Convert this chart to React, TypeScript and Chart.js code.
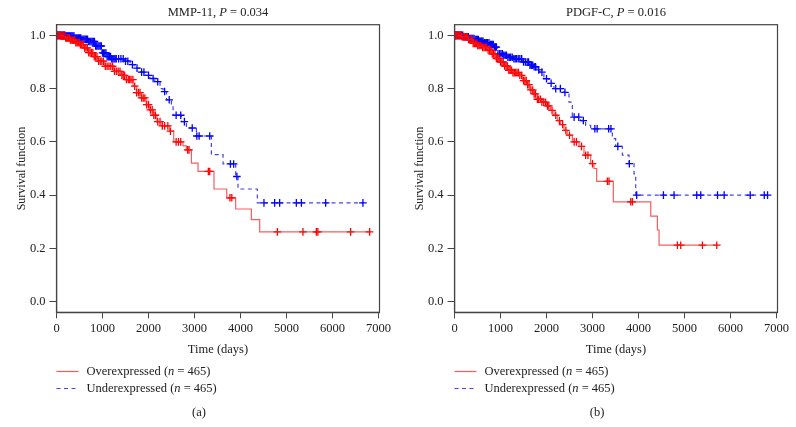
import React, { useEffect, useRef } from 'react';
import { Chart, registerables } from 'chart.js';

Chart.register(...registerables);

// ---------- axis ticks ----------
const xTicks = [0, 1000, 2000, 3000, 4000, 5000, 6000, 7000];
const yTicks = [0, 0.2, 0.4, 0.6, 0.8, 1.0];

// ---------- Panel (a) MMP-11 ----------
const mmpOverTimes = [0, 100, 200, 300, 400, 500, 600, 700, 800, 900, 1050, 1230, 1410, 1520, 1665, 1740, 1846, 1950, 2030, 2110, 2180, 2300, 2460, 2548, 2750, 2824, 2932, 3076, 3423, 3700, 3894, 4235, 4416];
const mmpOverSurv = [1.0, 0.997, 0.99, 0.983, 0.972, 0.965, 0.953, 0.935, 0.92, 0.903, 0.884, 0.865, 0.85, 0.834, 0.809, 0.785, 0.765, 0.74, 0.72, 0.7, 0.676, 0.66, 0.64, 0.6, 0.585, 0.57, 0.52, 0.489, 0.423, 0.39, 0.348, 0.308, 0.262];
const mmpOverCensor = [15, 40, 60, 80, 100, 120, 140, 160, 185, 200, 220, 240, 260, 280, 300, 320, 345, 370, 395, 420, 445, 470, 495, 520, 550, 580, 610, 640, 670, 700, 730, 760, 790, 820, 850, 880, 915, 950, 985, 1020, 1060, 1100, 1140, 1180, 1220, 1260, 1300, 1340, 1380, 1420, 1450, 1480, 1520, 1560, 1590, 1620, 1660, 1700, 1740, 1780, 1815, 1850, 1885, 1920, 1960, 2000, 2040, 2080, 2115, 2150, 2200, 2250, 2300, 2350, 2420, 2476, 2600, 2650, 2700, 2850, 2880, 3300, 3330, 3770, 3810, 4800, 5356, 5647, 5681, 6392, 6805];

const mmpUnderTimes = [0, 200, 400, 550, 700, 830, 980, 1100, 1200, 1480, 1600, 1700, 1800, 1920, 2030, 2135, 2250, 2316, 2390, 2498, 2533, 2715, 2824, 3041, 3366, 3620, 3894, 3945, 4365];
const mmpUnderSurv = [1.0, 0.997, 0.99, 0.985, 0.977, 0.96, 0.934, 0.92, 0.912, 0.903, 0.89, 0.877, 0.862, 0.85, 0.838, 0.826, 0.8, 0.789, 0.758, 0.739, 0.7, 0.676, 0.652, 0.622, 0.552, 0.517, 0.47, 0.423, 0.371];
const mmpUnderCensor = [10, 20, 35, 50, 65, 80, 95, 110, 125, 140, 155, 170, 185, 200, 220, 240, 260, 280, 300, 320, 340, 360, 380, 400, 425, 450, 475, 500, 525, 550, 575, 600, 625, 650, 675, 700, 725, 750, 775, 800, 825, 850, 875, 900, 925, 950, 975, 1000, 1025, 1050, 1075, 1100, 1125, 1150, 1175, 1200, 1225, 1250, 1275, 1300, 1350, 1400, 1450, 1500, 1550, 1650, 1750, 1850, 1900, 2000, 2100, 2200, 2350, 2450, 2600, 2700, 2780, 2950, 3050, 3100, 3330, 3780, 3850, 3920, 4509, 4741, 4850, 5213, 5322, 5850, 6660];

// ---------- Panel (b) PDGF-C ----------
const pdgfOverTimes = [0, 150, 300, 400, 500, 610, 711, 800, 900, 972, 1080, 1153, 1250, 1400, 1480, 1582, 1640, 1726, 1800, 1871, 2000, 2089, 2161, 2234, 2306, 2379, 2450, 2561, 2705, 2814, 2959, 3031, 3090, 3452, 4265, 4410, 4446];
const pdgfOverSurv = [1.0, 0.995, 0.985, 0.97, 0.962, 0.955, 0.945, 0.93, 0.913, 0.9, 0.885, 0.869, 0.86, 0.85, 0.83, 0.815, 0.795, 0.78, 0.76, 0.749, 0.735, 0.718, 0.7, 0.68, 0.665, 0.643, 0.625, 0.6, 0.583, 0.55, 0.518, 0.5, 0.452, 0.375, 0.321, 0.269, 0.212];
const pdgfOverCensor = [20, 40, 60, 80, 100, 120, 140, 160, 180, 200, 220, 240, 260, 280, 305, 330, 355, 380, 405, 430, 455, 480, 505, 530, 555, 580, 610, 640, 670, 700, 730, 760, 790, 820, 850, 880, 910, 940, 970, 1000, 1030, 1060, 1090, 1120, 1150, 1180, 1210, 1240, 1270, 1300, 1330, 1360, 1390, 1420, 1460, 1500, 1530, 1560, 1590, 1620, 1660, 1700, 1730, 1760, 1800, 1830, 1870, 1900, 1940, 1980, 2020, 2050, 2120, 2200, 2280, 2350, 2420, 2500, 2600, 2650, 2760, 2850, 2900, 3000, 3322, 3358, 3830, 3866, 4845, 4917, 5389, 5700];

const pdgfUnderTimes = [0, 200, 319, 450, 537, 650, 755, 864, 935, 1044, 1150, 1290, 1480, 1625, 1726, 1790, 1843, 1943, 2050, 2161, 2379, 2488, 2561, 2741, 2850, 2959, 3431, 3503, 3648, 3793, 3902, 3938];
const pdgfUnderSurv = [1.0, 0.995, 0.988, 0.984, 0.978, 0.972, 0.965, 0.956, 0.931, 0.925, 0.918, 0.912, 0.9, 0.888, 0.882, 0.87, 0.862, 0.837, 0.82, 0.8, 0.786, 0.749, 0.693, 0.68, 0.662, 0.649, 0.612, 0.583, 0.55, 0.518, 0.48, 0.4];
const pdgfUnderCensor = [10, 20, 30, 40, 55, 70, 85, 100, 115, 130, 145, 160, 180, 200, 220, 240, 260, 280, 300, 320, 340, 360, 380, 400, 425, 450, 475, 500, 520, 540, 560, 580, 600, 620, 650, 680, 700, 720, 750, 780, 800, 820, 845, 870, 890, 910, 945, 980, 1010, 1040, 1070, 1100, 1130, 1160, 1190, 1220, 1255, 1290, 1320, 1350, 1385, 1420, 1460, 1500, 1540, 1580, 1610, 1640, 1670, 1700, 1730, 1760, 1830, 1900, 2000, 2100, 2200, 2300, 2400, 2600, 2700, 2800, 3050, 3100, 3350, 3400, 3550, 3800, 3960, 4541, 4772, 5265, 5352, 5716, 5861, 6427, 6732, 6804];

// ---------- text ----------
const legendOver = 'Overexpressed';
const legendUnder = 'Underexpressed';
const groupN = 465;

const FONT = '"Liberation Serif", "Times New Roman", serif';
const RED_LINE = 'rgba(240,30,30,0.72)';
const RED_MARK = '#ff0000';
const BLUE_LINE = 'rgba(20,20,230,0.8)';
const BLUE_MARK = '#0000ff';

type Part = [string, boolean];

function survAt(times: number[], surv: number[], t: number) {
  let s = surv[0];
  for (let i = 0; i < times.length; i++) {
    if (times[i] <= t) s = surv[i];
  }
  return s;
}

function stepData(times: number[], surv: number[], censor: number[]) {
  const pts = times.map((t, i) => ({ x: t, y: surv[i] }));
  const last = Math.max(...censor);
  if (last > times[times.length - 1]) pts.push({ x: last, y: surv[surv.length - 1] });
  return pts;
}

function censorData(times: number[], surv: number[], censor: number[]) {
  return censor.map((t) => ({ x: t, y: survAt(times, surv, t) }));
}

function drawRich(ctx: CanvasRenderingContext2D, parts: Part[], x: number, y: number, size: number, align: 'left' | 'center') {
  const fontFor = (it: boolean) => `${it ? 'italic ' : ''}${size}px ${FONT}`;
  let total = 0;
  for (const [s, it] of parts) {
    ctx.font = fontFor(it);
    total += ctx.measureText(s).width;
  }
  let cx = align === 'center' ? x - total / 2 : x;
  ctx.textAlign = 'left';
  ctx.textBaseline = 'middle';
  for (const [s, it] of parts) {
    ctx.font = fontFor(it);
    ctx.fillText(s, cx, y);
    cx += ctx.measureText(s).width;
  }
}

interface PanelProps {
  name: string;
  pval: string;
  label: string;
  overT: number[];
  overS: number[];
  overC: number[];
  underT: number[];
  underS: number[];
  underC: number[];
}

const W = 398;
const H = 427;

function Panel(props: PanelProps) {
  const ref = useRef<HTMLCanvasElement | null>(null);
  useEffect(() => {
    const canvas = ref.current;
    if (!canvas) return;
    const decor = {
      id: 'decor',
      afterDraw(chart: any) {
        const ctx = chart.ctx as CanvasRenderingContext2D;
        const a = chart.chartArea;
        ctx.save();
        // frame
        ctx.strokeStyle = '#444';
        ctx.lineWidth = 1.2;
        ctx.strokeRect(a.left, a.top, a.right - a.left, a.bottom - a.top);
        ctx.fillStyle = '#222';
        const cx = (a.left + a.right) / 2;
        // title
        drawRich(ctx, [[props.name + ', ', false], ['P', true], [' = ' + props.pval, false]], cx, 13, 12.5, 'center');
        // x title
        drawRich(ctx, [['Time (days)', false]], cx, 350, 12.5, 'center');
        // y title
        ctx.save();
        ctx.translate(22, (a.top + a.bottom) / 2);
        ctx.rotate(-Math.PI / 2);
        drawRich(ctx, [['Survival function', false]], 0, 0, 12, 'center');
        ctx.restore();
        // legend
        const lx0 = a.left;
        const lx1 = a.left + 22;
        const ly1 = 371.5;
        const ly2 = 388.5;
        ctx.lineWidth = 1.2;
        ctx.strokeStyle = RED_LINE;
        ctx.setLineDash([]);
        ctx.beginPath();
        ctx.moveTo(lx0, ly1);
        ctx.lineTo(lx1, ly1);
        ctx.stroke();
        ctx.strokeStyle = BLUE_LINE;
        ctx.setLineDash([4, 3.5]);
        ctx.beginPath();
        ctx.moveTo(lx0, ly2);
        ctx.lineTo(lx1, ly2);
        ctx.stroke();
        ctx.setLineDash([]);
        ctx.fillStyle = '#222';
        drawRich(ctx, [[legendOver + ' (', false], ['n', true], [' = ' + groupN + ')', false]], a.left + 30, ly1, 12.5, 'left');
        drawRich(ctx, [[legendUnder + ' (', false], ['n', true], [' = ' + groupN + ')', false]], a.left + 30, ly2, 12.5, 'left');
        // panel label
        drawRich(ctx, [[props.label, false]], W / 2, 413, 12.5, 'center');
        ctx.restore();
      },
    };

    const chart = new Chart(canvas, {
      type: 'line',
      data: {
        datasets: [
          {
            label: legendOver,
            data: stepData(props.overT, props.overS, props.overC),
            stepped: true,
            borderColor: RED_LINE,
            borderWidth: 1.2,
            pointRadius: 0,
            fill: false,
          },
          {
            label: legendUnder,
            data: stepData(props.underT, props.underS, props.underC),
            stepped: true,
            borderColor: BLUE_LINE,
            borderDash: [4, 3.5],
            borderWidth: 1.2,
            pointRadius: 0,
            fill: false,
          },
          {
            label: legendOver + ' censored',
            data: censorData(props.overT, props.overS, props.overC),
            showLine: false,
            pointStyle: 'cross',
            pointRadius: 3.8,
            pointBorderWidth: 1.3,
            pointBorderColor: RED_MARK,
            borderColor: RED_MARK,
          },
          {
            label: legendUnder + ' censored',
            data: censorData(props.underT, props.underS, props.underC),
            showLine: false,
            pointStyle: 'cross',
            pointRadius: 3.8,
            pointBorderWidth: 1.3,
            pointBorderColor: BLUE_MARK,
            borderColor: BLUE_MARK,
          },
        ] as any,
      },
      options: {
        animation: false,
        responsive: false,
        devicePixelRatio: 1,
        layout: { padding: { top: 24.7, right: 18.5, bottom: 84.7, left: 0 } },
        plugins: {
          legend: { display: false },
          tooltip: { enabled: false },
          title: { display: false },
        },
        scales: {
          x: {
            type: 'linear',
            min: 0,
            max: 7020,
            afterFit: (s: any) => {
              s.height = 30;
            },
            afterBuildTicks: (s: any) => {
              s.ticks = xTicks.map((v) => ({ value: v }));
            },
            grid: { drawOnChartArea: false, drawTicks: true, tickLength: 6, color: '#444' },
            border: { display: true, color: '#444', width: 1.2 },
            ticks: {
              color: '#222',
              font: { family: FONT, size: 12.5 },
              padding: 3,
              maxRotation: 0,
              autoSkip: false,
              callback: (v: any) => String(v),
            },
          },
          y: {
            type: 'linear',
            min: -0.04,
            max: 1.04,
            afterFit: (s: any) => {
              s.width = 56.5;
            },
            afterBuildTicks: (s: any) => {
              s.ticks = yTicks.map((v) => ({ value: v }));
            },
            grid: { drawOnChartArea: false, drawTicks: true, tickLength: 7, color: '#444' },
            border: { display: true, color: '#444', width: 1.2 },
            ticks: {
              color: '#222',
              font: { family: FONT, size: 12.5 },
              padding: 4,
              autoSkip: false,
              callback: (v: any) => Number(v).toFixed(1),
            },
          },
        },
      } as any,
      plugins: [decor],
    });
    return () => chart.destroy();
  }, []);
  return <canvas ref={ref} width={W} height={H} style={{ width: W, height: H, display: 'block' }} />;
}

export default function App() {
  useEffect(() => {
    document.body.style.margin = '0';
    document.body.style.background = '#fff';
  }, []);
  return (
    <div style={{ position: 'fixed', left: 0, top: 0, width: 796, height: 427, display: 'flex', background: '#fff' }}>
      <Panel name="MMP-11" pval="0.034" label="(a)" overT={mmpOverTimes} overS={mmpOverSurv} overC={mmpOverCensor} underT={mmpUnderTimes} underS={mmpUnderSurv} underC={mmpUnderCensor} />
      <Panel name="PDGF-C" pval="0.016" label="(b)" overT={pdgfOverTimes} overS={pdgfOverSurv} overC={pdgfOverCensor} underT={pdgfUnderTimes} underS={pdgfUnderSurv} underC={pdgfUnderCensor} />
    </div>
  );
}
